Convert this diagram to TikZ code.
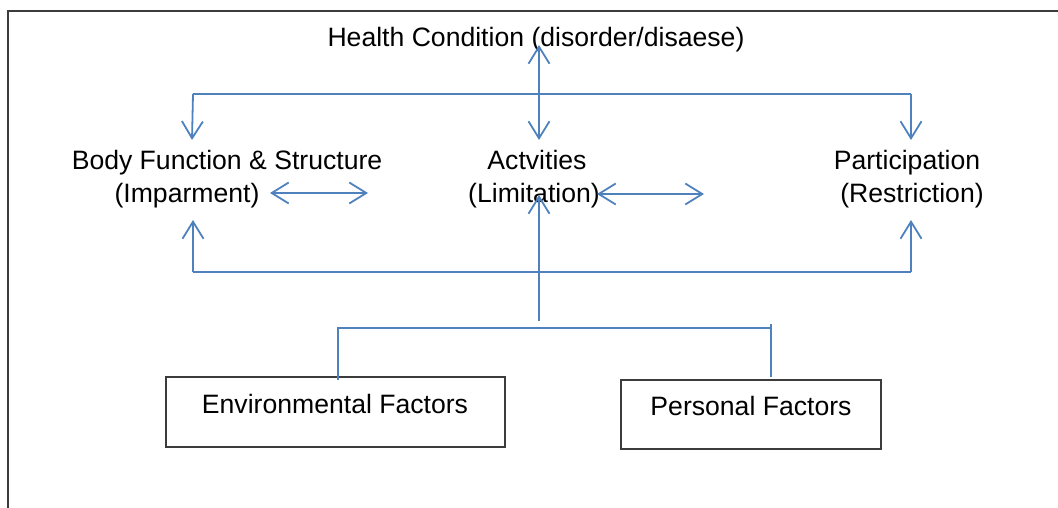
\documentclass[tikz,border=0pt]{standalone}
\usepackage{fontspec}
\setmainfont{Liberation Sans}
\usetikzlibrary{arrows.meta}
\definecolor{conn}{RGB}{79,129,189}
\definecolor{frame}{RGB}{60,60,60}
\begin{document}
\begin{tikzpicture}[x=1pt,y=-1pt,
  lbl/.style={inner sep=0pt,anchor=base,font=\fontsize{26.6}{32}\selectfont},
  fbox/.style={draw=frame,line width=1.6pt},
  link/.style={draw=conn,line width=1.8pt},
  tip/.style={-{Straight Barb[length=17pt,width=21pt]}},
  tips/.style={{Straight Barb[length=17pt,width=21pt]}-{Straight Barb[length=17pt,width=21pt]}}]
\useasboundingbox (0,0) rectangle (1058,508);
\draw[frame,line width=1.6pt] (8,508) -- (8,11) -- (1058,11);
% texts
\node[lbl] (hc) at (536,47) {Health Condition (disorder/disaese)};
\node[lbl] (bf1) at (227,170) {Body Function \& Structure};
\node[lbl] (bf2) at (187,203) {(Imparment)};
\node[lbl] (ac1) at (537,170) {Actvities};
\node[lbl] (ac2) at (534,203) {(Limitation)};
\node[lbl] (pa1) at (907,170) {Participation};
\node[lbl] (pa2) at (912,203) {(Restriction)};
% boxes
\draw[fbox] (166,377) rectangle (505,447);
\node[lbl] (env) at (335,413) {Environmental Factors};
\draw[fbox] (621,380) rectangle (881,449);
\node[lbl] (pers) at (751,415) {Personal Factors};
% coordinates
\coordinate (hcT) at (539,45);
\coordinate (hcB) at (539,140);
\coordinate (tL) at (193,94);
\coordinate (tR) at (911,94);
\coordinate (bfT) at (192,140);
\coordinate (paT) at (911,140);
\coordinate (bfB) at (193,220);
\coordinate (paB) at (911,220);
\coordinate (bL) at (193,272);
\coordinate (bR) at (911,272);
\coordinate (acB) at (539,195);
\coordinate (stem) at (539,321);
\coordinate (eTop) at (338,380);
\coordinate (eBr) at (338,328);
\coordinate (pBr) at (771,328);
\coordinate (pTick) at (771,324);
\coordinate (pTop) at (771,377);
% connectors
\draw[link,tips] (hcT) -- (hcB);
\draw[link] (tL) -- (tR);
\draw[link,tip] (tL) -- (bfT);
\draw[link,tip] (tR) -- (paT);
\draw[link,tips] (270,193) coordinate (bfR) -- (368,193) coordinate (acL);
\draw[link,tips] (597,194) coordinate (acR) -- (704,194) coordinate (paL);
\draw[link,tip] (bL) -- (bfB);
\draw[link,tip] (bR) -- (paB);
\draw[link] (bL) -- (bR);
\draw[link,tip] (stem) -- (acB);
\draw[link] (eTop) -- (eBr) -- (pBr);
\draw[link] (pTick) -- (pTop);
\end{tikzpicture}
\end{document}
